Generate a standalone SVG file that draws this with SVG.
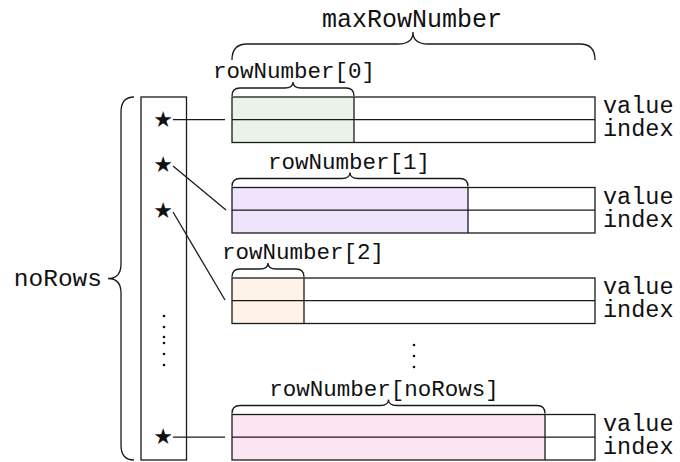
<svg xmlns="http://www.w3.org/2000/svg" width="680" height="462" viewBox="0 0 680 462">
<style>
.ln{fill:none;stroke:#1a1a1a;stroke-width:1.3}
.cell{stroke:#1a1a1a;stroke-width:1.3}
.t{font-family:"Liberation Mono","DejaVu Sans Mono",monospace;fill:#111}
.lab{font-size:23.5px}
.rn{font-size:22.5px;text-anchor:middle}
.star{font-family:"DejaVu Sans",sans-serif;font-size:22px;text-anchor:middle;fill:#111}
.dot{fill:#111}
</style>
<rect width="680" height="462" fill="#ffffff"/>

<g id="maxRowNumber">
<text class="t" x="412" y="27" font-size="25" text-anchor="middle">maxRowNumber</text>
<path class="ln" d="M232,60 Q232,44 247,44 L398,44 Q413,44 413,32 Q413,44 428,44 L580,44 Q595,44 595,60"/>
</g>

<g id="noRows">
<text class="t" x="102" y="286" font-size="24.5" text-anchor="end">noRows</text>
<path class="ln" d="M134,97 Q121,97 121,112 L121,264 Q121,278.5 108,278.5 Q121,278.5 121,293 L121,445 Q121,460 134,460"/>
</g>

<g id="pointers">
<rect class="cell" x="141" y="97" width="45.5" height="363" fill="#ffffff"/>
<text class="star" x="163" y="127">★</text>
<text class="star" x="163" y="172">★</text>
<text class="star" x="163" y="218">★</text>
<text class="star" x="163" y="444">★</text>
<circle class="dot" cx="164" cy="316" r="1.3"/>
<circle class="dot" cx="164" cy="327" r="1.3"/>
<circle class="dot" cx="164" cy="337" r="1.3"/>
<circle class="dot" cx="164" cy="343" r="1.3"/>
<circle class="dot" cx="164" cy="354" r="1.3"/>
<circle class="dot" cx="164" cy="365" r="1.3"/>
</g>

<g id="row0">
<rect x="232" y="97" width="122" height="45.5" fill="#e9f3ea"/>
<rect class="cell" x="232" y="97" width="363" height="45.5" fill="none"/>
<line class="ln" x1="232" y1="119.7" x2="595" y2="119.7"/>
<line class="ln" x1="354" y1="97" x2="354" y2="142.5"/>
<path class="ln" d="M232,96 Q232,88 240,88 L285,88 Q293,88 293,82 Q293,88 301,88 L346,88 Q354,88 354,96"/>
<text class="t rn" x="294" y="78">rowNumber[0]</text>
<text class="t lab" x="603" y="113">value</text>
<text class="t lab" x="603" y="136">index</text>
</g>

<g id="row1">
<rect x="232" y="187.5" width="236" height="45.5" fill="#efe4fb"/>
<rect class="cell" x="232" y="187.5" width="363" height="45.5" fill="none"/>
<line class="ln" x1="232" y1="210.2" x2="595" y2="210.2"/>
<line class="ln" x1="468" y1="187.5" x2="468" y2="233"/>
<path class="ln" d="M232,186.5 Q232,178.5 240,178.5 L342,178.5 Q350,178.5 350,172.5 Q350,178.5 358,178.5 L460,178.5 Q468,178.5 468,186.5"/>
<text class="t rn" x="349" y="168.5">rowNumber[1]</text>
<text class="t lab" x="603" y="203.5">value</text>
<text class="t lab" x="603" y="226.5">index</text>
</g>

<g id="row2">
<rect x="232" y="278" width="72" height="45.5" fill="#fff2e6"/>
<rect class="cell" x="232" y="278" width="363" height="45.5" fill="none"/>
<line class="ln" x1="232" y1="300.7" x2="595" y2="300.7"/>
<line class="ln" x1="304" y1="278" x2="304" y2="323.5"/>
<path class="ln" d="M232,277 Q232,269 240,269 L260,269 Q268,269 268,263 Q268,269 276,269 L296,269 Q304,269 304,277"/>
<text class="t rn" x="303" y="259">rowNumber[2]</text>
<text class="t lab" x="603" y="294">value</text>
<text class="t lab" x="603" y="317">index</text>
</g>

<g id="gap">
<circle class="dot" cx="414" cy="345" r="1.3"/>
<circle class="dot" cx="414" cy="356" r="1.3"/>
<circle class="dot" cx="414" cy="367" r="1.3"/>
</g>

<g id="rowN">
<rect x="232" y="414.5" width="313" height="45.5" fill="#fde4f2"/>
<rect class="cell" x="232" y="414.5" width="363" height="45.5" fill="none"/>
<line class="ln" x1="232" y1="437.2" x2="595" y2="437.2"/>
<line class="ln" x1="545" y1="414.5" x2="545" y2="460"/>
<path class="ln" d="M232,413.5 Q232,405.5 240,405.5 L380.5,405.5 Q388.5,405.5 388.5,399.5 Q388.5,405.5 396.5,405.5 L537,405.5 Q545,405.5 545,413.5"/>
<text class="t rn" x="384" y="395.5">rowNumber[noRows]</text>
<text class="t lab" x="603" y="430.5">value</text>
<text class="t lab" x="603" y="453.5">index</text>
</g>

<g id="connectors">
<line class="ln" x1="173" y1="119.7" x2="225" y2="119.7"/>
<line class="ln" x1="173" y1="166" x2="226" y2="210"/>
<line class="ln" x1="173" y1="212" x2="225" y2="300"/>
<line class="ln" x1="173" y1="437.2" x2="225" y2="437.2"/>
</g>
</svg>
